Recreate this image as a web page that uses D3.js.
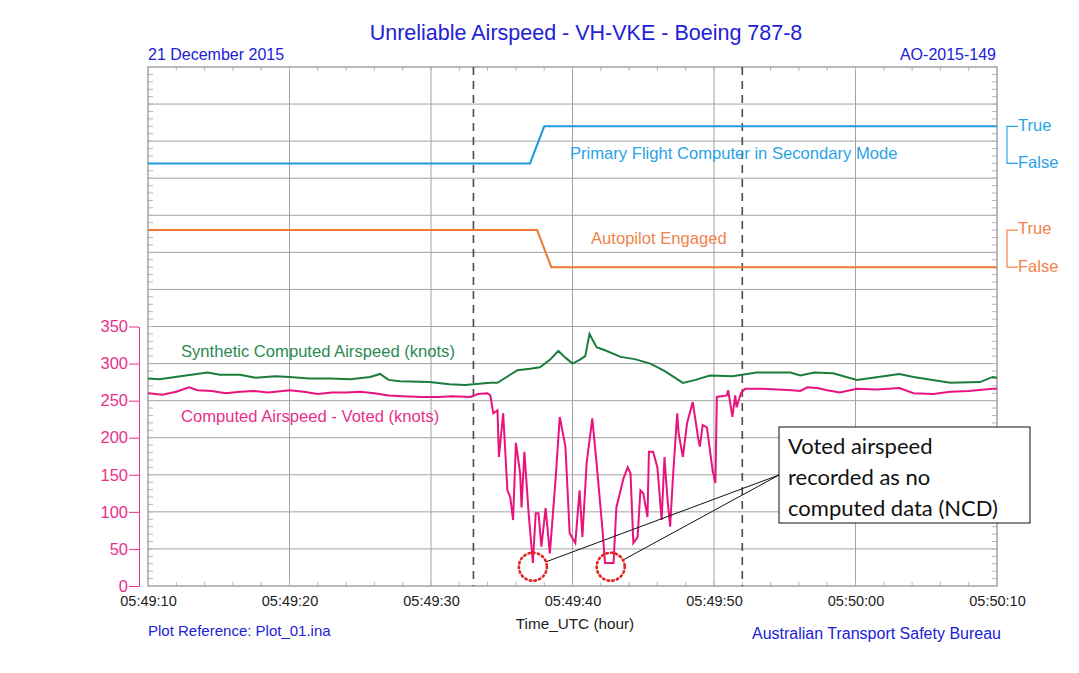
<!DOCTYPE html>
<html>
<head>
  <meta charset="utf-8">
  <title>Unreliable Airspeed - VH-VKE - Boeing 787-8</title>
  <style>
    body { margin: 0; background: #fff; }
    svg { display: block; font-family: "Liberation Sans", Arial, sans-serif; }
    .grid line { stroke: #a3a3a3; stroke-width: 1; }
    .minor line { stroke: #b8b8b8; stroke-width: 1; }
    .xaxis text { font-size: 14.5px; fill: #222; }
    .xaxis path, .xaxis line { display: none; }
    .yaxis text { font-size: 16.5px; fill: #e8308a; }
    .yaxis path, .yaxis line { stroke: #e8308a; }
    .blueText { fill: #2121d6; }
  </style>
</head>
<body>
<script src="https://cdn.jsdelivr.net/npm/d3@7"></script>
<script>
  // time in seconds after 05:49:10 UTC
  const START = Date.UTC(2015, 11, 21, 5, 49, 10);

  // Computed Airspeed - Voted (knots)
  const votedTimes = [0, 1, 2, 2.9, 3.5, 4.5, 5.5, 6.5, 7.5, 8.5, 10, 11, 12, 13, 14, 15, 16, 17, 18, 19.4,
    20.5, 21.5, 22.8, 23.3, 24.0, 24.2, 24.4, 24.7, 24.8, 25.1, 25.4, 25.6, 25.8, 26.0, 26.3, 26.4, 26.6,
    26.9, 27.2, 27.4, 27.6, 27.8, 28.1, 28.4, 28.8, 29.1, 29.5, 29.8, 30.2, 30.5, 30.7, 31.0, 31.4, 31.7,
    32.1, 32.3, 32.9, 33.1, 33.4, 33.6, 33.9, 34.1, 34.3, 34.6, 34.8, 35.0, 35.3, 35.4, 35.7, 36.0, 36.3,
    36.5, 36.7, 36.9, 37.1, 37.4, 37.5, 37.8, 38.1, 38.5, 38.9, 39.0, 39.2, 39.5, 39.9, 40.1, 40.2, 40.9,
    41.0, 41.3, 41.5, 41.6, 41.9, 42.2, 43.3, 44.5, 45.5, 46.1, 46.6, 47.3, 48.0, 48.9, 50.1, 51.5, 53.1,
    54.1, 55.5, 56.7, 58, 59.7, 60];
  const votedValues = [260, 258, 262, 268, 264, 263, 260, 262, 263, 261, 264, 262, 259, 261, 261, 262, 260, 257, 256, 255,
    255, 256, 255, 259, 260, 257, 233, 237, 174, 233, 129, 120, 89, 193, 152, 106, 181,
    98, 31, 98, 98, 53, 105, 44, 143, 228, 188, 71, 58, 129, 66, 166, 226, 166,
    80, 31, 31, 106, 129, 145, 160, 152, 58, 66, 129, 125, 93, 181, 181, 160, 89,
    174, 120, 80, 147, 233, 206, 174, 220, 248, 197, 188, 217, 214, 156, 139, 255, 257,
    264, 228, 257, 241, 260, 266, 266, 265, 264, 263, 268, 267, 264, 261, 266, 265, 267,
    260, 259, 262, 263, 266, 266];

  // Synthetic Computed Airspeed (knots)
  const synthTimes = [0, 0.8, 2.3, 4.2, 5.1, 6.5, 7.6, 9.0, 10.0, 11.4, 12.9, 14.3, 15.7, 16.4, 17.0, 17.8,
    19.9, 21.3, 22.4, 23.0, 24.2, 24.7, 26.1, 27.0, 27.7, 28.4, 29.0, 29.5, 30.0, 30.5, 30.9, 31.2, 31.7,
    32.3, 33.4, 34.4, 35.5, 36.5, 37.8, 38.7, 39.7, 41.3, 43.0, 45.4, 46.1, 47.1, 48.4, 50.1, 53.1, 54.1,
    56.7, 58.8, 59.7, 60];
  const synthValues = [280, 279, 283, 288, 285, 285, 281, 283, 282, 280, 280, 279, 282, 286, 278, 276,
    275, 272, 271, 272, 274, 274, 291, 293, 295, 305, 317, 308, 300, 305, 310, 340, 322,
    318, 309, 306, 300, 290, 274, 278, 284, 283, 288, 288, 284, 288, 287, 278, 286, 282,
    274, 275, 282, 281];

  // discrete parameters (1 = True, 0 = False)
  const pfcTimes = [0, 27.0, 28.0, 60];
  const pfcStates = [0, 0, 1, 1];
  const apTimes = [0, 27.5, 28.5, 60];
  const apStates = [1, 1, 0, 0];

  const eventTimes = [23.0, 42.0];      // dashed markers
  const ncdTimes = [27.2, 32.7];        // NCD circles
  const ncdValue = 26;

  const speedTicks = [0, 50, 100, 150, 200, 250, 300, 350];
  const timeTicks = [0, 10, 20, 30, 40, 50, 60];

  const W = 1079, H = 673;
  const plot = { left: 148, right: 997, top: 67, bottom: 586 };

  const toDate = s => new Date(START + s * 1000);

  const x = d3.scaleUtc()
    .domain([toDate(0), toDate(60)])
    .range([plot.left, plot.right]);
  // whole plot stacked on one 0..700 scale
  const y = d3.scaleLinear().domain([0, 700]).range([plot.bottom, plot.top]);
  const ySpeed = d3.scaleLinear().domain([0, 350]).range([plot.bottom, y(350)]);
  const pfcY = s => y(s ? 620 : 570);
  const apY = s => y(s ? 480 : 430);

  const svg = d3.select("body").append("svg")
    .attr("width", W).attr("height", H);

  // grid
  const grid = svg.append("g").attr("class", "grid");
  grid.selectAll(".h").data(d3.range(50, 700, 50)).join("line")
    .attr("x1", plot.left).attr("x2", plot.right)
    .attr("y1", d => y(d)).attr("y2", d => y(d));
  grid.selectAll(".v").data(timeTicks.slice(1, -1)).join("line")
    .attr("x1", d => x(toDate(d))).attr("x2", d => x(toDate(d)))
    .attr("y1", plot.top).attr("y2", plot.bottom);

  // minor ticks on the frame
  const minor = svg.append("g").attr("class", "minor");
  const minorT = d3.range(2, 60, 2);
  minor.selectAll(".mt").data(minorT).join("line")
    .attr("x1", d => x(toDate(d))).attr("x2", d => x(toDate(d)))
    .attr("y1", plot.top).attr("y2", plot.top + 4);
  minor.selectAll(".mb").data(minorT).join("line")
    .attr("x1", d => x(toDate(d))).attr("x2", d => x(toDate(d)))
    .attr("y1", plot.bottom).attr("y2", plot.bottom - 4);
  const minorV = d3.range(10, 700, 10);
  minor.selectAll(".ml").data(minorV).join("line")
    .attr("x1", plot.left).attr("x2", plot.left + 5)
    .attr("y1", d => y(d)).attr("y2", d => y(d));
  minor.selectAll(".mr").data(minorV).join("line")
    .attr("x1", plot.right).attr("x2", plot.right - 5)
    .attr("y1", d => y(d)).attr("y2", d => y(d));

  svg.append("rect")
    .attr("x", plot.left).attr("y", plot.top)
    .attr("width", plot.right - plot.left).attr("height", plot.bottom - plot.top)
    .attr("fill", "none").attr("stroke", "#8c8c8c").attr("stroke-width", 1.2);

  // event markers
  svg.append("g").selectAll("line").data(eventTimes).join("line")
    .attr("x1", d => x(toDate(d))).attr("x2", d => x(toDate(d)))
    .attr("y1", plot.top).attr("y2", plot.bottom)
    .attr("stroke", "#4a4a4a").attr("stroke-width", 1.6)
    .attr("stroke-dasharray", "8,6");

  // discrete traces
  const stepLine = (times, states, fy) => d3.line()
    .x((d, i) => x(toDate(times[i])))
    .y(d => fy(d))(states);

  svg.append("path").attr("d", stepLine(pfcTimes, pfcStates, pfcY))
    .attr("fill", "none").attr("stroke", "#1f9ae0").attr("stroke-width", 2);
  svg.append("path").attr("d", stepLine(apTimes, apStates, apY))
    .attr("fill", "none").attr("stroke", "#f07a35").attr("stroke-width", 2);

  // airspeed traces
  const speedLine = times => d3.line()
    .x((d, i) => x(toDate(times[i])))
    .y(d => ySpeed(d));

  svg.append("path").attr("d", speedLine(synthTimes)(synthValues))
    .attr("fill", "none").attr("stroke", "#1a7d3c").attr("stroke-width", 2);
  svg.append("path").attr("d", speedLine(votedTimes)(votedValues))
    .attr("fill", "none").attr("stroke", "#e8137d").attr("stroke-width", 2);

  // trace labels
  const label = (tx, ty, txt, col) => svg.append("text")
    .attr("x", tx).attr("y", ty).attr("fill", col)
    .attr("font-size", 16.6).attr("dominant-baseline", "middle").text(txt);
  label(181, 353, "Synthetic Computed Airspeed (knots)", "#2a8a52");
  label(181, 418, "Computed Airspeed - Voted (knots)", "#e8308a");
  label(570, 155, "Primary Flight Computer in Secondary Mode", "#2aa3e6");
  label(591, 240, "Autopilot Engaged", "#f0834a");

  // True / False brackets on the right
  const bracket = (fy, col) => {
    const g = svg.append("g");
    const yt = fy(1), yf = fy(0);
    g.append("path")
      .attr("d", `M1018,${yt}H1007V${yf}H1018`)
      .attr("fill", "none").attr("stroke", col).attr("stroke-width", 1.2);
    g.append("text").attr("x", 1018).attr("y", yt).attr("fill", col)
      .attr("font-size", 16.5).attr("dominant-baseline", "middle").text("True");
    g.append("text").attr("x", 1018).attr("y", yf).attr("fill", col)
      .attr("font-size", 16.5).attr("dominant-baseline", "middle").text("False");
  };
  bracket(pfcY, "#2aa3e6");
  bracket(apY, "#f0834a");

  // axes
  svg.append("g").attr("class", "yaxis")
    .attr("transform", "translate(139,0)")
    .call(d3.axisLeft(ySpeed).tickValues(speedTicks).tickSize(10).tickSizeOuter(0).tickPadding(1));

  svg.append("g").attr("class", "xaxis")
    .attr("transform", `translate(0,${plot.bottom})`)
    .call(d3.axisBottom(x).tickValues(timeTicks.map(toDate))
      .tickFormat(d3.utcFormat("%H:%M:%S")).tickSize(0).tickPadding(10));

  svg.append("text").attr("x", 575).attr("y", 629).attr("text-anchor", "middle")
    .attr("font-size", 15.3).attr("fill", "#222").text("Time_UTC (hour)");

  // titles and footers
  svg.append("text").attr("class", "blueText").attr("x", 586).attr("y", 40)
    .attr("text-anchor", "middle").attr("font-size", 21.5)
    .text("Unreliable Airspeed - VH-VKE - Boeing 787-8");
  svg.append("text").attr("class", "blueText").attr("x", 148).attr("y", 60)
    .attr("font-size", 16).text("21 December 2015");
  svg.append("text").attr("class", "blueText").attr("x", 996).attr("y", 60)
    .attr("text-anchor", "end").attr("font-size", 16).text("AO-2015-149");
  svg.append("text").attr("class", "blueText").attr("x", 148).attr("y", 636)
    .attr("font-size", 15).text("Plot Reference: Plot_01.ina");
  svg.append("text").attr("class", "blueText").attr("x", 1001).attr("y", 639)
    .attr("text-anchor", "end").attr("font-size", 16).text("Australian Transport Safety Bureau");

  // NCD annotation
  const box = { x: 779, y: 427, w: 251, h: 96 };
  const anchor = [box.x, 475];
  const r = 14;
  const ann = svg.append("g");
  ncdTimes.forEach(t => {
    const cx = x(toDate(t)), cy = ySpeed(ncdValue);
    const a = Math.atan2(anchor[1] - cy, anchor[0] - cx);
    ann.append("line")
      .attr("x1", cx + r * Math.cos(a)).attr("y1", cy + r * Math.sin(a))
      .attr("x2", anchor[0]).attr("y2", anchor[1])
      .attr("stroke", "#111").attr("stroke-width", 1);
    ann.append("circle").attr("cx", cx).attr("cy", cy).attr("r", r)
      .attr("fill", "none").attr("stroke", "#e0261f").attr("stroke-width", 2.6)
      .attr("stroke-dasharray", "1.5,3.2").attr("stroke-linecap", "round");
  });
  ann.append("rect").attr("x", box.x).attr("y", box.y)
    .attr("width", box.w).attr("height", box.h)
    .attr("fill", "#fff").attr("stroke", "#111").attr("stroke-width", 1);
  ["Voted airspeed", "recorded as no", "computed data (NCD)"].forEach((s, i) => {
    ann.append("text").attr("x", box.x + 9).attr("y", box.y + 27 + i * 31)
      .attr("font-family", "Lato, 'Open Sans', sans-serif").attr("font-size", 22)
      .attr("fill", "#111").text(s);
  });
</script>
</body>
</html>
